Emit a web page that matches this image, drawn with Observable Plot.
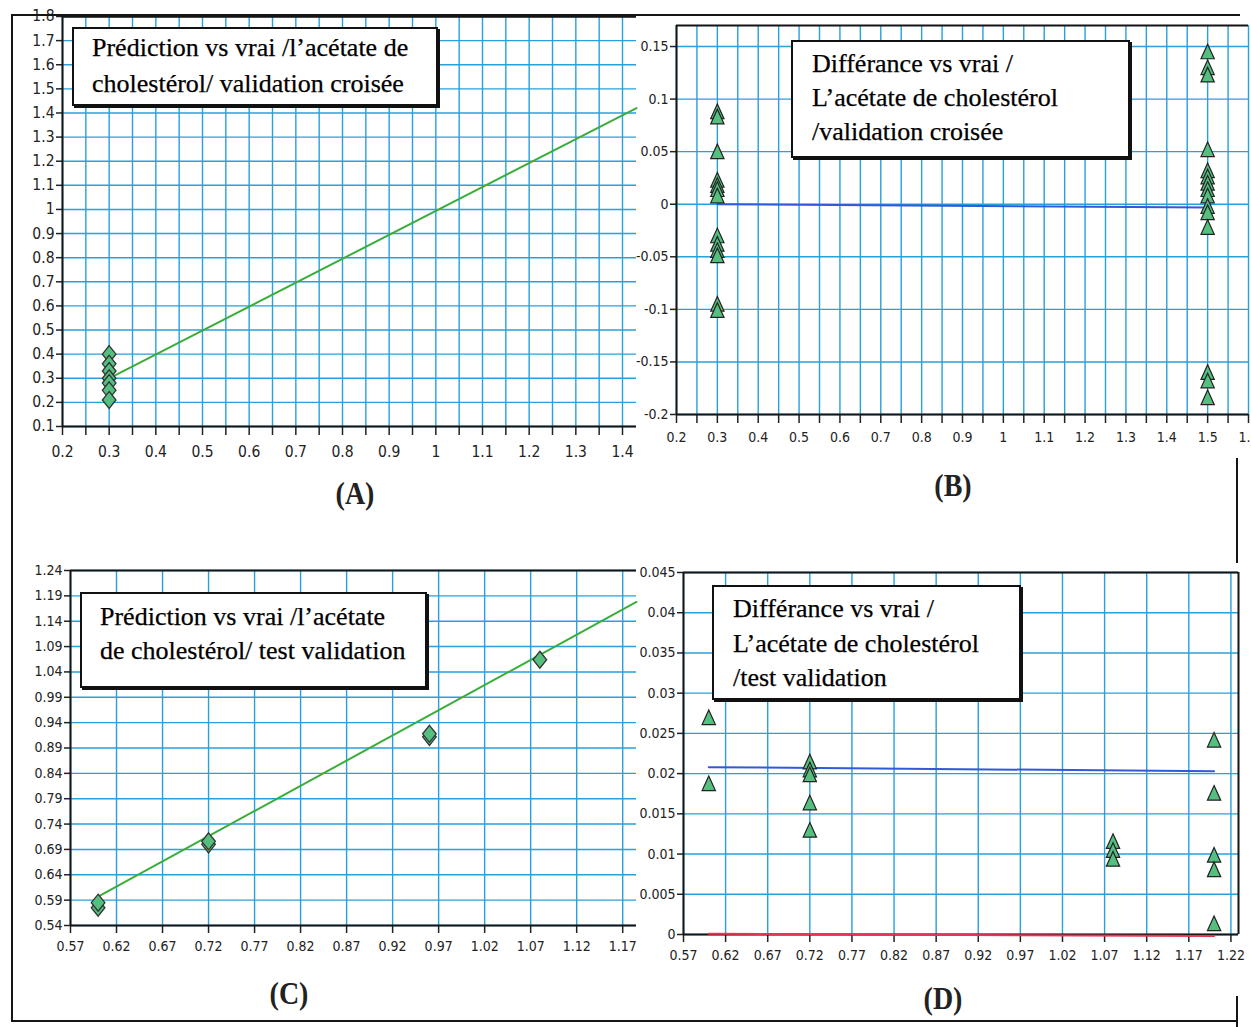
<!DOCTYPE html>
<html><head><meta charset="utf-8">
<script src="https://cdn.jsdelivr.net/npm/d3@7"></script>
<script src="https://cdn.jsdelivr.net/npm/@observablehq/plot@0.6"></script>
<style>
html,body{margin:0;padding:0;background:#fff;}
body{width:1251px;height:1027px;overflow:hidden;position:relative;}
.panel{position:absolute;}
.box{position:absolute;background:#fff;border:2px solid #111;box-shadow:2px 2px 0 #111;font-family:"Liberation Serif","Times New Roman",serif;font-size:26px;color:#000;-webkit-text-stroke:0.25px #000;box-sizing:border-box;white-space:nowrap;}
.lab{position:absolute;font-family:"Liberation Serif","Times New Roman",serif;font-weight:bold;font-size:28px;color:#222;transform:translate(-50%,-50%) scaleY(1.1);}
.fr{position:absolute;background:#151515;}
</style>
</head><body>
<script>
// ---------- data ----------
// Panel A : prediction vs true (cross validation)
const aTrue = [0.3, 0.3, 0.3, 0.3, 0.3, 0.3, 0.3];
const aPred = [0.40, 0.36, 0.33, 0.30, 0.28, 0.25, 0.21];
const aFitX = [0.30, 1.43];
const aFitY = [0.30, 1.42];
const aXTicks = [0.2, 0.3, 0.4, 0.5, 0.6, 0.7, 0.8, 0.9, 1, 1.1, 1.2, 1.3, 1.4];
const aYTicks = [0.1, 0.2, 0.3, 0.4, 0.5, 0.6, 0.7, 0.8, 0.9, 1, 1.1, 1.2, 1.3, 1.4, 1.5, 1.6, 1.7, 1.8];

// Panel B : difference vs true (cross validation)
const bTrue = [0.3,0.3,0.3,0.3,0.3,0.3,0.3,0.3,0.3,0.3,0.3,0.3,0.3,
               1.5,1.5,1.5,1.5,1.5,1.5,1.5,1.5,1.5,1.5,1.5,1.5,1.5,1.5,1.5];
const bDiff = [0.086, 0.081, 0.048, 0.021, 0.016, 0.012, 0.006, -0.032, -0.040, -0.046, -0.051, -0.097, -0.103,
               0.143, 0.128, 0.121, 0.050, 0.030, 0.024, 0.018, 0.012, 0.006, -0.004, -0.010, -0.024, -0.162, -0.170, -0.186];
const bMeanX = [0.3, 1.5];
const bMeanY = [0.0, -0.003];
const bXTicks = [0.2, 0.3, 0.4, 0.5, 0.6, 0.7, 0.8, 0.9, 1, 1.1, 1.2, 1.3, 1.4, 1.5, 1.6];
const bYTicks = [-0.2, -0.15, -0.1, -0.05, 0, 0.05, 0.1, 0.15];

// Panel C : prediction vs true (test validation)
const cTrue = [0.6, 0.6, 0.72, 0.72, 0.96, 0.96, 1.08];
const cPred = [0.575, 0.585, 0.700, 0.706, 0.912, 0.918, 1.064];
const cFitX = [0.6, 1.185];
const cFitY = [0.597, 1.178];
const cXTicks = [0.57, 0.62, 0.67, 0.72, 0.77, 0.82, 0.87, 0.92, 0.97, 1.02, 1.07, 1.12, 1.17];
const cYTicks = [0.54, 0.59, 0.64, 0.69, 0.74, 0.79, 0.84, 0.89, 0.94, 0.99, 1.04, 1.09, 1.14, 1.19, 1.24];

// Panel D : difference vs true (test validation)
const dTrue = [0.6, 0.6, 0.72, 0.72, 0.72, 0.72, 0.72, 1.08, 1.08, 1.08, 1.2, 1.2, 1.2, 1.2, 1.2];
const dDiff = [0.0267, 0.0185, 0.0212, 0.0202, 0.0196, 0.0161, 0.0127, 0.0113, 0.0102, 0.0091, 0.0239, 0.0173, 0.0096, 0.0078, 0.0011];
const dMeanX = [0.6, 1.2];
const dMeanY = [0.0208, 0.0203];
const dZeroX = [0.6, 1.2];
const dZeroY = [0.0001, -0.0002];
const dXTicks = [0.57, 0.62, 0.67, 0.72, 0.77, 0.82, 0.87, 0.92, 0.97, 1.02, 1.07, 1.12, 1.17, 1.22];
const dYTicks = [0, 0.005, 0.01, 0.015, 0.02, 0.025, 0.03, 0.035, 0.04, 0.045];

// texts
const aTitle = ["Prédiction vs vrai /l’acétate de", "cholestérol/ validation croisée"];
const bTitle = ["Différance vs vrai /", "L’acétate de cholestérol", "/validation croisée"];
const cTitle = ["Prédiction vs vrai /l’acétate", "de cholestérol/ test validation"];
const dTitle = ["Différance vs vrai /", "L’acétate de cholestérol", "/test validation"];
const panelLabels = ["(A)", "(B)", "(C)", "(D)"];

// ---------- helpers ----------
const GRID = "#27a0dc", GREEN = "#3aad3a", BLUE = "#3358d8", RED = "#e8344e", FILL = "#55bf80";
const zip = (xs, ys) => xs.map((x, i) => ({x, y: ys[i]}));
const seq = (a, b, s) => d3.range(Math.round((b - a) / s) + 1).map(i => +(a + i * s).toFixed(4));
const fmtG = d => String(+(+d).toFixed(3));
const fmt2 = d => (+d).toFixed(2);
const tickFont = (fs) => `font-family:"Liberation Sans Narrow","DejaVu Sans Condensed","Liberation Sans",sans-serif;font-stretch:condensed;font-size:${fs}px;color:#222;background:transparent;overflow:visible;`;

const diamond = {draw(ctx, size) {const s = Math.sqrt(size), w = s * 0.64, h = s * 0.8;
  ctx.moveTo(0, -h); ctx.lineTo(w, 0); ctx.lineTo(0, h); ctx.lineTo(-w, 0); ctx.closePath();}};
const triangle = {draw(ctx, size) {const s = Math.sqrt(size), w = s * 1.5, h = s * 1.65;
  ctx.moveTo(0, -h * 2 / 3); ctx.lineTo(w / 2, h / 3); ctx.lineTo(-w / 2, h / 3); ctx.closePath();}};

function place(el, left, top) {
  const d = document.createElement("div");
  d.className = "panel"; d.style.left = left + "px"; d.style.top = top + "px";
  d.appendChild(el); document.body.appendChild(d);
}
function box(lines, left, top, w, h, pl, pt, lh) {
  const d = document.createElement("div");
  d.className = "box";
  Object.assign(d.style, {left: left + "px", top: top + "px", width: w + "px", height: h + "px",
    paddingLeft: pl + "px", paddingTop: pt + "px", lineHeight: lh + "px"});
  lines.forEach(t => {const s = document.createElement("div"); s.textContent = t; d.appendChild(s);});
  document.body.appendChild(d);
}
function lab(t, x, y) {
  const d = document.createElement("div"); d.className = "lab"; d.textContent = t;
  d.style.left = x + "px"; d.style.top = y + "px"; document.body.appendChild(d);
}
function fr(l, t, w, h) {
  const d = document.createElement("div"); d.className = "fr";
  Object.assign(d.style, {left: l + "px", top: t + "px", width: w + "px", height: h + "px"});
  document.body.appendChild(d);
}
const gridOpt = {stroke: GRID, strokeOpacity: 1, strokeWidth: 1.4};
const frameOpt = {stroke: "#151515", strokeWidth: 2};

// ---------- Panel A ----------
place(Plot.plot({
  width: 640, height: 470, marginLeft: 62, marginRight: 4, marginTop: 16, marginBottom: 44,
  style: tickFont(15.5),
  x: {domain: [0.2, 1.43], label: null}, y: {domain: [0.1, 1.8], label: null},
  marks: [
    Plot.gridX(seq(0.2, 1.4, 0.05), gridOpt),
    Plot.gridY(aYTicks, gridOpt),
    Plot.axisX(seq(0.25, 1.35, 0.1), {tickSize: 9, tickFormat: () => "", strokeWidth: 1.5}),
    Plot.axisX(aXTicks, {tickSize: 9, tickPadding: 10, tickFormat: fmtG, strokeWidth: 1.5}),
    Plot.axisY(aYTicks, {tickSize: 6, tickPadding: 2, tickFormat: fmtG, strokeWidth: 1.5}),
    Plot.ruleX([0.2], frameOpt), Plot.ruleY([0.1], frameOpt), Plot.ruleY([1.8], {stroke: "#151515", strokeWidth: 2.5}),
    Plot.line(zip(aFitX, aFitY), {x: "x", y: "y", stroke: GREEN, strokeWidth: 2}),
    Plot.dot(zip(aTrue, aPred), {x: "x", y: "y", symbol: diamond, r: 6, fill: FILL, stroke: "#333", strokeWidth: 1.3})
  ]
}), 0, 0);

// ---------- Panel B ----------
place(Plot.plot({
  width: 611, height: 460, marginLeft: 36, marginRight: 3, marginTop: 25, marginBottom: 46,
  style: tickFont(14),
  x: {domain: [0.2, 1.6], label: null}, y: {domain: [-0.2, 0.17], label: null},
  marks: [
    Plot.gridX(seq(0.2, 1.6, 0.05), gridOpt),
    Plot.gridY(bYTicks, gridOpt),
    Plot.axisX(seq(0.25, 1.55, 0.1), {tickSize: 9, tickFormat: () => "", strokeWidth: 1.5}),
    Plot.axisX(bXTicks, {tickSize: 9, tickPadding: 9, tickFormat: fmtG, strokeWidth: 1.5}),
    Plot.axisY(bYTicks, {tickSize: 6, tickPadding: 2, tickFormat: fmtG, strokeWidth: 1.5}),
    Plot.ruleX([0.2], frameOpt), Plot.ruleY([-0.2], frameOpt), Plot.ruleY([0.17], frameOpt),
    Plot.line(zip(bMeanX, bMeanY), {x: "x", y: "y", stroke: BLUE, strokeWidth: 2}),
    Plot.dot(zip(bTrue, bDiff), {x: "x", y: "y", symbol: triangle, r: 5, fill: FILL, stroke: "#222", strokeWidth: 1.2})
  ]
}), 640, 0);

// ---------- Panel C ----------
place(Plot.plot({
  width: 640, height: 440, marginLeft: 70, marginRight: 4, marginTop: 30, marginBottom: 55,
  style: tickFont(14),
  x: {domain: [0.57, 1.185], label: null}, y: {domain: [0.54, 1.24], label: null},
  marks: [
    Plot.gridX(cXTicks, gridOpt),
    Plot.gridY(cYTicks, gridOpt),
    Plot.axisX(cXTicks, {tickSize: 8, tickPadding: 8, tickFormat: fmt2, strokeWidth: 1.5}),
    Plot.axisY(cYTicks, {tickSize: 6, tickPadding: 2, tickFormat: fmt2, strokeWidth: 1.5}),
    Plot.ruleX([0.57], frameOpt), Plot.ruleY([0.54], frameOpt), Plot.ruleY([1.24], frameOpt),
    Plot.line(zip(cFitX, cFitY), {x: "x", y: "y", stroke: GREEN, strokeWidth: 2}),
    Plot.dot(zip(cTrue, cPred), {x: "x", y: "y", symbol: diamond, r: 6, fill: FILL, stroke: "#333", strokeWidth: 1.3})
  ]
}), 0, 540);

// ---------- Panel D ----------
place(Plot.plot({
  width: 611, height: 440, marginLeft: 43, marginRight: 13, marginTop: 32, marginBottom: 46,
  style: tickFont(14),
  x: {domain: [0.57, 1.229], label: null}, y: {domain: [0, 0.045], label: null},
  marks: [
    Plot.gridX(dXTicks, gridOpt),
    Plot.gridY(dYTicks, gridOpt),
    Plot.axisX(dXTicks, {tickSize: 8, tickPadding: 8, tickFormat: fmt2, strokeWidth: 1.5}),
    Plot.axisY(dYTicks, {tickSize: 6, tickPadding: 2, tickFormat: fmtG, strokeWidth: 1.5}),
    Plot.ruleX([0.57], frameOpt), Plot.ruleX([1.229], frameOpt),
    Plot.ruleY([0], frameOpt), Plot.ruleY([0.045], frameOpt),
    Plot.line(zip(dMeanX, dMeanY), {x: "x", y: "y", stroke: BLUE, strokeWidth: 2}),
    Plot.line(zip(dZeroX, dZeroY), {x: "x", y: "y", stroke: RED, strokeWidth: 2}),
    Plot.dot(zip(dTrue, dDiff), {x: "x", y: "y", symbol: triangle, r: 5, fill: FILL, stroke: "#222", strokeWidth: 1.2})
  ]
}), 640, 540);

// ---------- legend boxes & labels ----------
box(aTitle, 72, 27, 366, 79, 18, 1, 36);
box(bTitle, 791, 40, 339, 118, 19, 5, 34);
box(cTitle, 80, 592, 347, 96, 18, 6, 34);
box(dTitle, 712, 585, 309, 115, 19, 5, 34.5);
lab(panelLabels[0], 355, 494);
lab(panelLabels[1], 953, 486);
lab(panelLabels[2], 289, 994);
lab(panelLabels[3], 943, 999);

// page frame
fr(11, 14, 1229, 2);
fr(11, 14, 2, 1008);
fr(11, 1020, 1227, 2);
fr(1236, 458, 2, 105);
fr(1236, 996, 2, 31);
</script>
</body></html>
